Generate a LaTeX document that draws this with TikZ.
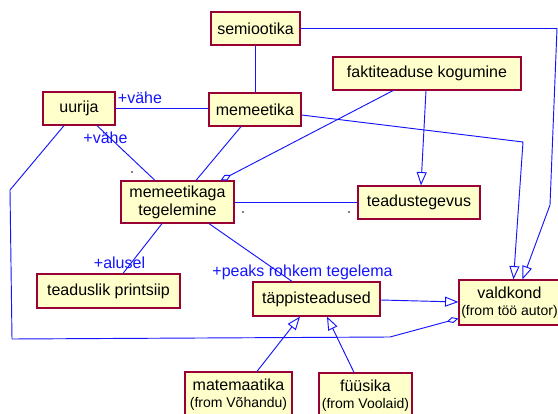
\documentclass[tikz,border=0pt]{standalone}
\usepackage{fontspec}
\setmainfont{Liberation Sans}
\usetikzlibrary{arrows.meta,calc}
\definecolor{boxfill}{RGB}{255,255,204}
\definecolor{boxline}{RGB}{153,0,51}
\definecolor{linkblue}{RGB}{20,20,255}
\newcommand\pkgfont{\fontsize{10.5}{12}\selectfont}
\begin{document}
\begin{tikzpicture}[x=0.75pt,y=-0.75pt,
  cls/.style 2 args={draw=boxline, line width=0.9pt, fill=boxfill,
    minimum width=#1*0.75pt, minimum height=#2*0.75pt, inner sep=0pt,
    align=center, font=\fontsize{12}{13.5}\selectfont},
  link/.style={draw=linkblue, line width=0.7pt},
  gen/.style={link, -{Triangle[open, length=10pt, width=7.5pt]}},
  agg/.style={link, {Diamond[open, length=9pt, width=4.5pt]}-},
  role/.style={text=linkblue, font=\fontsize{12}{14}\selectfont, inner sep=0pt}
]
\fill[white] (0,0) rectangle (558,414);
\useasboundingbox (0,0) rectangle (558,414);

% classes
\node[cls={89}{33}]  (semi)  at (255.5,28.5) {semiootika};
\node[cls={72}{33}]  (uurija) at (79,108.5)  {uurija};
\node[cls={92}{33}]  (meme)  at (255,109.5)  {memeetika};
\node[cls={188}{33}] (fakt)  at (427,73.5)   {faktiteaduse kogumine};
\node[cls={113}{42}] (megt)  at (177.5,202)  {memeetikaga\\tegelemine};
\node[cls={122}{33}] (tegev) at (419,202.5)  {teadustegevus};
\node[cls={143}{34}] (print) at (108.5,291)  {teaduslik printsiip};
\node[cls={127}{34}] (tapp)  at (316.5,299)  {täppisteadused};
\node[cls={101}{45}] (vald)  at (509.5,302.5)
  {valdkond\\[-1pt]{\pkgfont (from töö autor)}};
\node[cls={107}{45}] (mate)  at (238.5,394.5)
  {matemaatika\\[-1pt]{\pkgfont (from Võhandu)}};
\node[cls={93}{45}]  (fuus)  at (365.5,395.5)
  {füüsika\\[-1pt]{\pkgfont (from Voolaid)}};

% bend points
\coordinate (s1) at (557,28.5);
\coordinate (s2) at (550,205);
\coordinate (m1) at (523,142);
\coordinate (u1) at (10,190);
\coordinate (u2) at (12,339);
\coordinate (u3) at (390,337);

% associations
\draw[link] (semi.south) -- (semi.south |- meme.north);
\draw[link] (uurija.east) -- (meme.west |- uurija.east);
\draw[link] ($(uurija.south)+(18,0)$) -- ($(megt.north)+(-22.5,0)$);
\draw[link] ($(meme.south)+(-14,0)$) -- ($(megt.north)+(18.5,0)$);
\draw[link] (megt.east) -- (megt.east -| tegev.west);
\draw[link] ($(megt.south)+(-15.5,0)$) -- ($(print.north)+(14.5,0)$);
\draw[link] ($(megt.south)+(31.5,0)$) -- ($(tapp.north)+(-24.5,0)$);

% aggregations
\draw[agg] ($(megt.north)+(43,0)$) -- ($(fakt.south)+(-34,0)$);
\draw[agg] ($(vald.west)+(0,16)$) -- (u3) -- (u2) -- (u1) -- ($(uurija.south)+(-15,0)$);

% generalisations
\draw[gen] (semi.east) -- (s1) -- (s2) -- ($(vald.north)+(13,0)$);
\draw[gen] ($(meme.east)+(0,5.5)$) -- (m1) -- ($(vald.north)+(4,0)$);
\draw[gen] ($(fakt.south)+(-1,0)$) -- ($(tegev.north)+(2,0)$);
\draw[gen] ($(tapp.east)+(0,1)$) -- ($(vald.west)+(0,-0.5)$);
\draw[gen] ($(mate.north)+(18.5,0)$) -- ($(tapp.south)+(-16.5,0)$);
\draw[gen] ($(fuus.north)+(-11.5,0)$) -- ($(tapp.south)+(10.5,0)$);

% role names
\node[role] (r1) at (140,98)    {+vähe};
\node[role] (r2) at (105.5,138) {+vähe};
\node[role] (r3) at (119.5,263) {+alusel};
\node[role] (r4) at (302.5,272) {+peaks rohkem tegelema};

% multiplicity dots
\fill (132,172) circle (0.9);
\fill (243,212) circle (0.9);
\fill (349,212) circle (0.9);
\end{tikzpicture}
\end{document}
